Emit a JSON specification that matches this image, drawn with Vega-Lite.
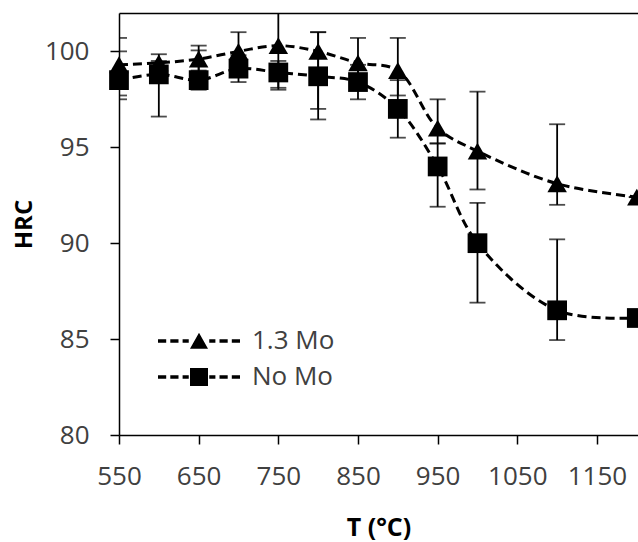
{
  "$schema": "https://vega.github.io/schema/vega-lite/v6.json",
  "autosize": {"type": "none"},
  "width": 519,
  "height": 422,
  "padding": {"left": 119, "top": 13, "right": 0, "bottom": 107},
  "background": "white",
  "config": {
    "view": {"stroke": null},
    "font": "Open Sans"
  },
  "data": {
    "values": [
      {"series": "1.3 Mo", "T": 550, "HRC": 99.3, "lo": 97.7, "hi": 100.7},
      {"series": "1.3 Mo", "T": 600, "HRC": 99.4, "lo": 99.0, "hi": 99.85},
      {"series": "1.3 Mo", "T": 650, "HRC": 99.6, "lo": 99.0, "hi": 100.3},
      {"series": "1.3 Mo", "T": 700, "HRC": 100.0, "lo": 99.3, "hi": 101.0},
      {"series": "1.3 Mo", "T": 750, "HRC": 100.3, "lo": 98.1, "hi": 102.4},
      {"series": "1.3 Mo", "T": 800, "HRC": 100.0, "lo": 97.0, "hi": 101.0},
      {"series": "1.3 Mo", "T": 850, "HRC": 99.4, "lo": 98.1, "hi": 100.7},
      {"series": "1.3 Mo", "T": 900, "HRC": 99.0, "lo": 97.7, "hi": 100.7},
      {"series": "1.3 Mo", "T": 950, "HRC": 96.0, "lo": 95.2, "hi": 97.5},
      {"series": "1.3 Mo", "T": 1000, "HRC": 94.8, "lo": 92.8, "hi": 97.9},
      {"series": "1.3 Mo", "T": 1100, "HRC": 93.1, "lo": 92.0, "hi": 96.2},
      {"series": "1.3 Mo", "T": 1200, "HRC": 92.4, "lo": 92.4, "hi": 92.4},
      {"series": "No Mo", "T": 550, "HRC": 98.5, "lo": 97.5, "hi": 100.0},
      {"series": "No Mo", "T": 600, "HRC": 98.8, "lo": 96.6, "hi": 99.5},
      {"series": "No Mo", "T": 650, "HRC": 98.5, "lo": 98.0, "hi": 100.05},
      {"series": "No Mo", "T": 700, "HRC": 99.1, "lo": 98.4, "hi": 99.8},
      {"series": "No Mo", "T": 750, "HRC": 98.9, "lo": 98.0, "hi": 99.5},
      {"series": "No Mo", "T": 800, "HRC": 98.7, "lo": 96.45, "hi": 101.0},
      {"series": "No Mo", "T": 850, "HRC": 98.4, "lo": 97.5, "hi": 99.3},
      {"series": "No Mo", "T": 900, "HRC": 97.0, "lo": 95.5, "hi": 98.5},
      {"series": "No Mo", "T": 950, "HRC": 94.0, "lo": 91.9, "hi": 95.2},
      {"series": "No Mo", "T": 1000, "HRC": 90.0, "lo": 86.9, "hi": 92.1},
      {"series": "No Mo", "T": 1100, "HRC": 86.5, "lo": 84.95, "hi": 90.2},
      {"series": "No Mo", "T": 1200, "HRC": 86.1, "lo": 86.1, "hi": 86.1}
    ]
  },
  "layer": [
    {
      "mark": {"type": "rule", "color": "black", "strokeWidth": 1.8, "clip": true},
      "encoding": {
        "x": {
          "field": "T", "type": "quantitative",
          "scale": {"domain": [550, 1201.5], "nice": false, "zero": false},
          "axis": {
            "orient": "top", "labels": false, "ticks": false, "title": null, "grid": false,
            "domainColor": "black", "domainWidth": 1.5
          }
        },
        "y": {"field": "lo", "type": "quantitative", "scale": {"domain": [80, 102], "nice": false, "zero": false}, "axis": null},
        "y2": {"field": "hi"}
      }
    },
    {
      "mark": {"type": "tick", "orient": "horizontal", "color": "black", "size": 16, "thickness": 1.8, "clip": true},
      "encoding": {
        "x": {"field": "T", "type": "quantitative", "axis": null},
        "y": {"field": "lo", "type": "quantitative", "axis": null}
      }
    },
    {
      "mark": {"type": "tick", "orient": "horizontal", "color": "black", "size": 16, "thickness": 1.8, "clip": true},
      "encoding": {
        "x": {"field": "T", "type": "quantitative", "axis": null},
        "y": {"field": "hi", "type": "quantitative", "axis": null}
      }
    },
    {
      "mark": {"type": "line", "color": "black", "strokeWidth": 3, "strokeDash": [9, 5], "interpolate": "catmull-rom"},
      "encoding": {
        "x": {
          "field": "T", "type": "quantitative",
          "axis": {
            "orient": "bottom",
            "values": [550, 650, 750, 850, 950, 1050, 1150],
            "format": "d",
            "grid": false,
            "domainColor": "black", "domainWidth": 1.5,
            "tickColor": "black", "tickWidth": 1.5, "tickSize": 9,
            "labelFont": "Open Sans", "labelFontSize": 26, "labelColor": "#404040", "labelPadding": 19,
            "labelOverlap": false, "labelFlush": false,
            "title": "T (°C)", "titleFont": "Open Sans", "titleFontSize": 25, "titleFontWeight": "bold",
            "titleColor": "black", "titlePadding": 26
          }
        },
        "y": {
          "field": "HRC", "type": "quantitative",
          "axis": {
            "values": [80, 85, 90, 95, 100],
            "grid": false,
            "domainColor": "black", "domainWidth": 1.5,
            "tickColor": "black", "tickWidth": 1.5, "tickSize": 9,
            "labelFont": "Open Sans", "labelFontSize": 26, "labelColor": "#404040", "labelPadding": 21,
            "title": "HRC", "titleFont": "Open Sans", "titleFontSize": 24, "titleFontWeight": "bold",
            "titleColor": "black", "titlePadding": 8
          }
        },
        "detail": {"field": "series"}
      }
    },
    {
      "mark": {"type": "point", "filled": true, "color": "black", "opacity": 1, "strokeWidth": 0},
      "encoding": {
        "x": {"field": "T", "type": "quantitative", "axis": null},
        "y": {"field": "HRC", "type": "quantitative", "axis": null},
        "shape": {
          "field": "series", "type": "nominal",
          "scale": {"domain": ["1.3 Mo", "No Mo"], "range": ["triangle-up", "square"]},
          "legend": null
        },
        "size": {
          "field": "series", "type": "nominal",
          "scale": {"domain": ["1.3 Mo", "No Mo"], "range": [380, 390]},
          "legend": null
        }
      }
    },
    {
      "mark": {"type": "point", "filled": true, "color": "black", "opacity": 0, "strokeWidth": 0},
      "encoding": {
        "x": {"field": "T", "type": "quantitative", "axis": null},
        "y": {"field": "HRC", "type": "quantitative", "axis": null},
        "shape": {
          "field": "series", "type": "nominal",
          "scale": {
            "domain": ["1.3 Mo", "No Mo"],
            "range": [
              "M-1,-0.04H-0.8V0.04H-1ZM-0.7,-0.04H-0.5V0.04H-0.7ZM-0.4,-0.04H-0.25V0.04H-0.4ZM-0.22,0.19L0,-0.2L0.22,0.19ZM0.25,-0.04H0.4V0.04H0.25ZM0.5,-0.04H0.7V0.04H0.5ZM0.8,-0.04H1V0.04H0.8Z",
              "M-1,-0.04H-0.8V0.04H-1ZM-0.7,-0.04H-0.5V0.04H-0.7ZM-0.4,-0.04H-0.25V0.04H-0.4ZM-0.22,-0.22H0.22V0.22H-0.22ZM0.25,-0.04H0.4V0.04H0.25ZM0.5,-0.04H0.7V0.04H0.5ZM0.8,-0.04H1V0.04H0.8Z"
            ]
          },
          "legend": {
            "orient": "none", "legendX": 39, "legendY": 315,
            "title": null, "padding": 0,
            "symbolSize": 6724, "symbolOpacity": 1, "symbolFillColor": "black",
            "symbolStrokeWidth": 0, "symbolStrokeColor": "black",
            "labelFont": "Open Sans", "labelFontSize": 26, "labelColor": "#404040",
            "labelOffset": 12, "rowPadding": 10, "clipHeight": 26
          }
        }
      }
    }
  ],
  "resolve": {
    "scale": {"shape": "independent"},
    "axis": {"x": "independent", "y": "independent"},
    "legend": {"shape": "independent"}
  }
}
